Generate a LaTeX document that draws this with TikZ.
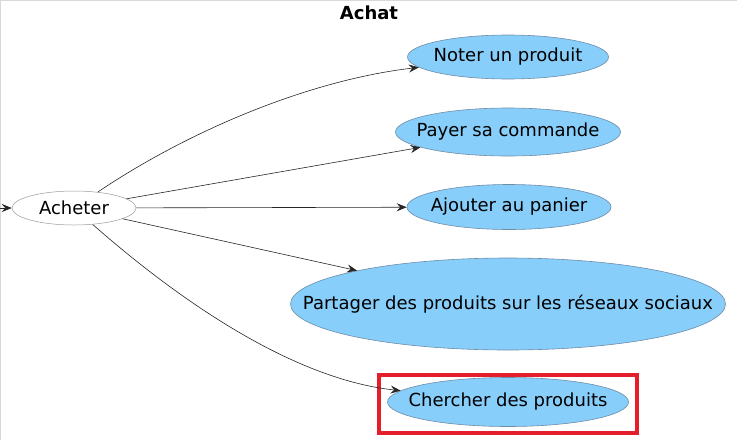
\documentclass[tikz,border=0pt]{standalone}
\usepackage{fontspec}
\setmainfont{DejaVu Sans}
\usepackage{tikz}
\usetikzlibrary{shapes.geometric,arrows.meta}

\definecolor{ucblue}{HTML}{87CEFA}
\definecolor{ucline}{HTML}{6E8CA8}
\definecolor{hired}{HTML}{E41E2B}
\newcommand{\uctext}[1]{\makebox[0pt]{#1}}

\begin{document}
\begin{tikzpicture}[x=1pt, y=-1pt, thick,
  usecase/.style = {draw=ucline, line width=0.6pt, fill=ucblue, ellipse, inner sep=0pt, font=\fontsize{18}{20}\selectfont},
  actor/.style = {draw=gray!80, line width=0.5pt, fill=white, ellipse, inner sep=0pt, font=\fontsize{18}{20}\selectfont},
  link/.style = {draw=black!85, line width=0.6pt, -{Stealth[length=10pt, width=8pt, inset=3.5pt]}}]
\useasboundingbox (0,0) rectangle (737,440);
\draw[gray!30, line width=1pt] (0,440) -- (0,0.5) -- (737,0.5);
\node[font=\bfseries\fontsize{18}{20}\selectfont] (title) at (369,13) {Achat};

\node[actor, minimum width=124pt, minimum height=34pt] (acheter) at (74,208) {\uctext{Acheter}};
\node[usecase, minimum width=201pt, minimum height=44pt] (noter) at (508,57) {\uctext{Noter un produit}};
\node[usecase, minimum width=225pt, minimum height=48pt] (payer) at (508,132) {\uctext{Payer sa commande}};
\node[usecase, minimum width=204pt, minimum height=45pt] (panier) at (509,207) {\uctext{Ajouter au panier}};
\node[usecase, minimum width=435pt, minimum height=92pt] (partager) at (508,304) {\uctext{Partager des produits sur les réseaux sociaux}};
\node[usecase, minimum width=241pt, minimum height=49pt] (chercher) at (508,402) {\uctext{Chercher des produits}};
\draw[hired, line width=4pt] (chercher.center) ++(-129,-27) rectangle ++(258,58);
\coordinate (entree) at (0,208);

\draw[link] (entree) -- (acheter);
\draw[link] (acheter) .. controls (190,130) and (310,80) .. (noter);
\draw[link] (acheter) -- (payer);
\draw[link] (acheter) -- (panier);
\draw[link] (acheter) -- (partager);
\draw[link] (acheter) .. controls (190,310) and (300,380) .. (chercher);
\end{tikzpicture}
\end{document}
